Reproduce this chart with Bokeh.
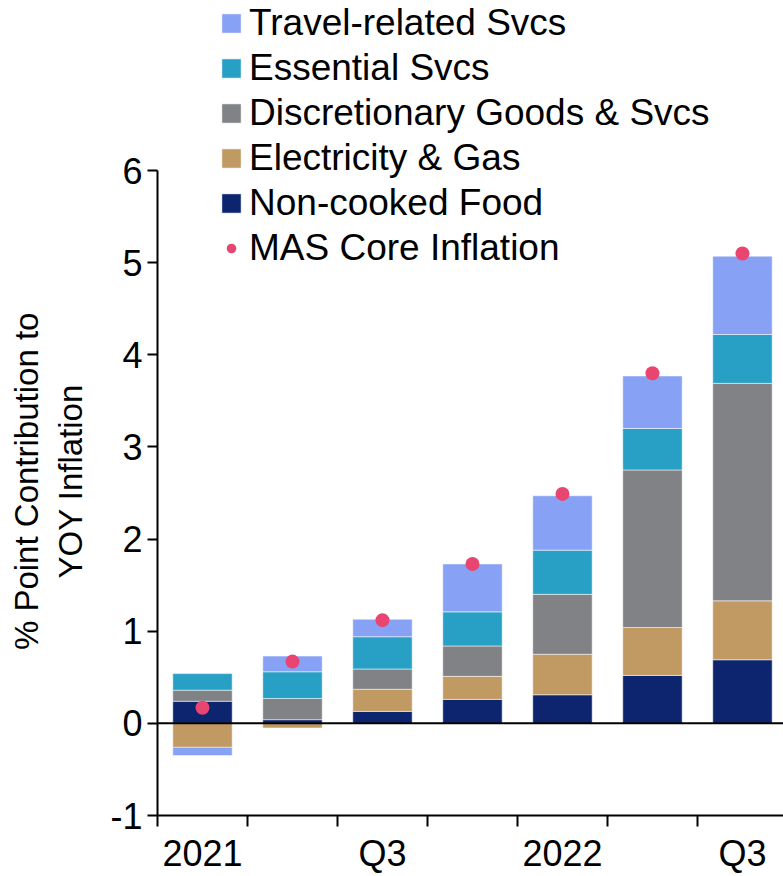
from bokeh.plotting import figure
from bokeh.models import Range1d, FixedTicker, Span, Legend, LegendItem, ColumnDataSource
from bokeh.embed import file_html
from bokeh.resources import INLINE

quarters = ["2021 Q1", "2021 Q2", "2021 Q3", "2021 Q4", "2022 Q1", "2022 Q2", "2022 Q3"]
tick_labels = ["2021", "", "Q3", "", "2022", "", "Q3"]
y_ticks = [-1, 0, 1, 2, 3, 4, 5, 6]

food = [0.24, 0.04, 0.13, 0.26, 0.31, 0.52, 0.69]
elec = [-0.26, -0.05, 0.24, 0.25, 0.44, 0.52, 0.64]
disc = [0.12, 0.23, 0.22, 0.33, 0.65, 1.71, 2.36]
ess = [0.18, 0.29, 0.35, 0.37, 0.48, 0.45, 0.53]
travel = [-0.09, 0.17, 0.19, 0.52, 0.59, 0.57, 0.85]
core = [0.17, 0.67, 1.12, 1.73, 2.49, 3.80, 5.10]

series = [
    ("Non-cooked Food", food, "#0C256E"),
    ("Electricity & Gas", elec, "#C19A63"),
    ("Discretionary Goods & Svcs", disc, "#818285"),
    ("Essential Svcs", ess, "#28A0C6"),
    ("Travel-related Svcs", travel, "#87A1F5"),
]
core_color = "#E84571"
FONT = "Liberation Sans"

xs = [i + 0.5 for i in range(len(quarters))]

# frame spans whole height above the x axis; y axis line limited to [-1, 6]
p = figure(width=783, height=876, output_backend="svg", toolbar_location=None,
           x_range=Range1d(0, 6.956), y_range=Range1d(-1, 7.845),
           min_border_left=157, min_border_right=0, min_border_top=0, min_border_bottom=61)
p.outline_line_color = None
p.xgrid.visible = False
p.ygrid.visible = False
p.background_fill_color = "white"
p.border_fill_color = "white"

renderers = {}
pos = [0.0] * len(xs)
neg = [0.0] * len(xs)
for name, vals, color in series:
    bottoms, tops = [], []
    for i, v in enumerate(vals):
        if v >= 0:
            b = pos[i]; t = b + v; pos[i] = t
        else:
            b = neg[i]; t = b + v; neg[i] = t
        bottoms.append(b); tops.append(t)
    src = ColumnDataSource(dict(x=xs, bottom=bottoms, top=tops))
    r = p.vbar(x="x", bottom="bottom", top="top", width=0.66, source=src,
               fill_color=color, line_color="white", line_width=1, line_alpha=0.5)
    renderers[name] = r

zero = Span(location=0, dimension="width", line_color="black", line_width=2)
p.add_layout(zero)

core_src = ColumnDataSource(dict(x=xs, y=core))
rc = p.scatter(x="x", y="y", source=core_src, size=14, fill_color=core_color, line_color=None)

# x axis: labels at bar centres, ticks between bars
xa = p.xaxis[0]
xa.ticker = FixedTicker(ticks=[x for x, l in zip(xs, tick_labels) if l],
                        minor_ticks=[i for i in range(len(quarters) + 1)])
xa.major_label_overrides = {x: l for x, l in zip(xs, tick_labels) if l}
xa.major_tick_out = 0
xa.major_tick_in = 0
xa.minor_tick_out = 11
xa.minor_tick_in = 0
xa.minor_tick_line_width = 2
xa.minor_tick_line_color = "black"
xa.axis_line_width = 2
xa.axis_line_color = "black"
xa.major_label_text_font = FONT
xa.major_label_text_font_size = "36px"
xa.major_label_text_color = "black"
xa.major_label_standoff = 6

ya = p.yaxis[0]
ya.bounds = (y_ticks[0], y_ticks[-1])
ya.ticker = FixedTicker(ticks=y_ticks, minor_ticks=[])
ya.major_label_overrides = {t: str(t) for t in y_ticks}
ya.major_tick_out = 10
ya.major_tick_in = 0
ya.major_tick_line_width = 2
ya.major_tick_line_color = "black"
ya.axis_line_width = 2
ya.axis_line_color = "black"
ya.major_label_text_font = FONT
ya.major_label_text_font_size = "36px"
ya.major_label_text_color = "black"
ya.major_label_standoff = 5
pad = "\u00a0" * 16
ya.axis_label = "% Point Contribution to" + pad + "\nYOY Inflation" + pad
ya.axis_label_text_font = FONT
ya.axis_label_text_font_size = "33px"
ya.axis_label_text_font_style = "normal"
ya.axis_label_text_color = "black"
ya.axis_label_standoff = 18

items = [LegendItem(label=name, renderers=[renderers[name]]) for name in
         ["Travel-related Svcs", "Essential Svcs", "Discretionary Goods & Svcs",
          "Electricity & Gas", "Non-cooked Food"]]
items.append(LegendItem(label="MAS Core Inflation", renderers=[rc]))
legend = Legend(items=items, location=(62, 546), orientation="vertical",
                label_text_font=FONT, label_text_font_size="37px", label_text_color="black",
                glyph_width=24, glyph_height=24, label_standoff=6, spacing=3,
                padding=0, margin=0, border_line_alpha=0, background_fill_alpha=0)
p.add_layout(legend)

open("out.html", "w").write(file_html(p, INLINE))
